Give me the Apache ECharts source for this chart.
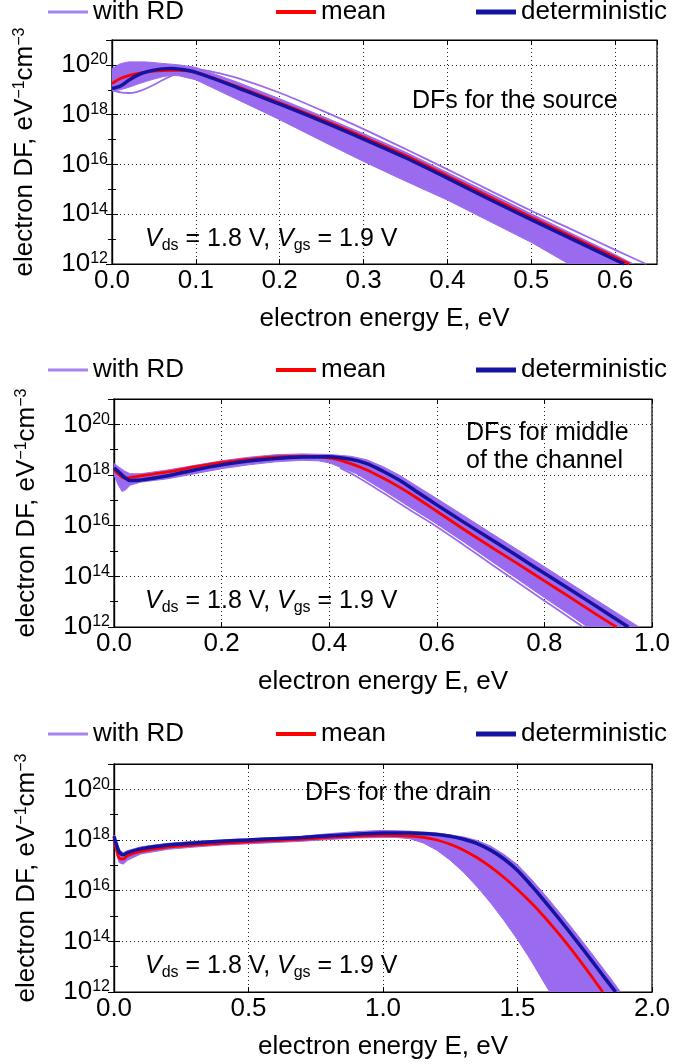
<!DOCTYPE html>
<html><head><meta charset="utf-8">
<script src="https://cdn.jsdelivr.net/npm/echarts@6/dist/echarts.min.js"></script>
<style>html,body{margin:0;padding:0;background:#fff}#c{width:694px;height:1064px}</style>
</head><body><div id="c"></div>
<script>
// ---- DATA: [energy eV, log10(DF / eV^-1 cm^-3)] ----
// Panel 1: source
const srcDeterministic = [[0,19.05],[0.01,19.15],[0.02,19.38],[0.03,19.58],[0.04,19.71],[0.05,19.79],[0.06,19.84],[0.07,19.85],[0.08,19.83],[0.1,19.7],[0.15,19.08],[0.2,18.42],[0.25,17.74],[0.3,17.02],[0.35,16.27],[0.4,15.45],[0.45,14.6],[0.5,13.78],[0.55,12.98],[0.6,12.17],[0.611,12.0]];
const srcMean = [[0,19.25],[0.01,19.45],[0.02,19.57],[0.03,19.65],[0.04,19.71],[0.05,19.75],[0.06,19.77],[0.07,19.78],[0.08,19.78],[0.1,19.7],[0.15,19.12],[0.2,18.48],[0.25,17.81],[0.3,17.1],[0.35,16.36],[0.4,15.54],[0.45,14.7],[0.5,13.88],[0.55,13.07],[0.6,12.27],[0.617,12.0]];
const srcBandUpper = [[0,19.85],[0.01,20.05],[0.02,20.12],[0.04,20.12],[0.06,20.06],[0.08,20.0],[0.1,19.9],[0.15,19.3],[0.2,18.64],[0.25,17.95],[0.3,17.24],[0.35,16.5],[0.4,15.68],[0.45,14.85],[0.5,14.02],[0.55,13.2],[0.6,12.38],[0.622,12.0]];
const srcBandLower = [[0,18.95],[0.01,19.0],[0.02,19.1],[0.03,19.22],[0.04,19.33],[0.05,19.43],[0.06,19.52],[0.07,19.58],[0.08,19.56],[0.1,19.4],[0.15,18.6],[0.2,17.8],[0.25,16.95],[0.3,16.12],[0.35,15.33],[0.4,14.57],[0.45,13.72],[0.5,12.87],[0.545,12.0]];
const srcOutlier = [[0,19.0],[0.01,18.9],[0.02,18.87],[0.03,18.92],[0.04,19.04],[0.05,19.2],[0.06,19.38],[0.07,19.55],[0.08,19.68],[0.09,19.77],[0.1,19.82],[0.12,19.72],[0.15,19.47],[0.2,18.88],[0.25,18.17],[0.3,17.42],[0.35,16.62],[0.4,15.8],[0.45,14.97],[0.5,14.14],[0.55,13.36],[0.6,12.57],[0.637,12.0]];

// Panel 2: middle of the channel
const midDeterministic = [[0,18.28],[0.01,18.1],[0.02,17.9],[0.03,17.78],[0.05,17.8],[0.1,17.97],[0.15,18.2],[0.2,18.4],[0.25,18.55],[0.3,18.65],[0.35,18.71],[0.4,18.72],[0.44,18.62],[0.47,18.45],[0.5,18.15],[0.53,17.8],[0.56,17.38],[0.6,16.82],[0.65,16.14],[0.7,15.47],[0.75,14.8],[0.8,14.12],[0.85,13.45],[0.9,12.77],[0.956,12.0]];
const midMean = [[0,18.2],[0.01,18.0],[0.02,17.88],[0.03,17.9],[0.05,17.97],[0.1,18.12],[0.15,18.32],[0.2,18.5],[0.25,18.62],[0.3,18.71],[0.35,18.74],[0.38,18.72],[0.41,18.64],[0.44,18.45],[0.47,18.2],[0.5,17.88],[0.52,17.65],[0.55,17.27],[0.6,16.57],[0.65,15.86],[0.7,15.17],[0.75,14.5],[0.8,13.82],[0.85,13.14],[0.9,12.45],[0.934,12.0]];
const midBandUpper = [[0,18.45],[0.01,18.3],[0.02,18.15],[0.03,18.05],[0.05,18.05],[0.1,18.2],[0.15,18.38],[0.2,18.56],[0.25,18.7],[0.3,18.8],[0.35,18.83],[0.4,18.81],[0.44,18.74],[0.47,18.6],[0.5,18.33],[0.53,18.0],[0.56,17.6],[0.6,17.07],[0.65,16.4],[0.7,15.72],[0.75,15.05],[0.8,14.38],[0.85,13.7],[0.9,13.02],[0.95,12.35],[0.976,12.0]];
const midBandLower = [[0,18.0],[0.008,17.6],[0.015,17.35],[0.022,17.42],[0.03,17.6],[0.05,17.72],[0.1,17.85],[0.15,18.05],[0.2,18.25],[0.25,18.4],[0.3,18.52],[0.35,18.58],[0.38,18.56],[0.4,18.48],[0.45,18.06],[0.5,17.41],[0.55,16.73],[0.6,16.07],[0.65,15.36],[0.7,14.62],[0.75,13.89],[0.8,13.16],[0.85,12.44],[0.88,12.0]];
const midOutlier = [[0.42,18.28],[0.45,17.95],[0.5,17.3],[0.55,16.62],[0.6,15.96],[0.65,15.24],[0.7,14.5],[0.75,13.77],[0.8,13.04],[0.85,12.32],[0.872,12.0]];

// Panel 3: drain
const drainDeterministic = [[0,18.15],[0.01,17.8],[0.02,17.52],[0.035,17.42],[0.05,17.5],[0.1,17.65],[0.2,17.8],[0.3,17.88],[0.4,17.95],[0.5,18.0],[0.6,18.05],[0.7,18.1],[0.8,18.17],[0.9,18.23],[1.0,18.28],[1.1,18.28],[1.2,18.22],[1.25,18.15],[1.3,18.03],[1.35,17.86],[1.4,17.6],[1.45,17.25],[1.5,16.8],[1.55,16.22],[1.6,15.6],[1.65,14.95],[1.7,14.28],[1.75,13.6],[1.8,12.9],[1.85,12.2],[1.865,12.0]];
const drainMean = [[0,18.05],[0.01,17.6],[0.02,17.28],[0.035,17.25],[0.05,17.38],[0.1,17.55],[0.2,17.72],[0.3,17.8],[0.4,17.87],[0.5,17.93],[0.6,17.98],[0.7,18.03],[0.8,18.1],[0.9,18.15],[1.0,18.18],[1.1,18.15],[1.15,18.1],[1.2,18.0],[1.25,17.83],[1.3,17.6],[1.35,17.3],[1.4,16.94],[1.45,16.52],[1.5,16.05],[1.55,15.53],[1.6,14.96],[1.65,14.34],[1.7,13.68],[1.75,12.98],[1.8,12.25],[1.817,12.0]];
const drainBandUpper = [[0,18.2],[0.01,17.9],[0.02,17.6],[0.035,17.5],[0.05,17.58],[0.1,17.73],[0.2,17.87],[0.3,17.95],[0.4,18.0],[0.5,18.05],[0.6,18.1],[0.7,18.15],[0.8,18.25],[0.9,18.33],[1.0,18.38],[1.1,18.35],[1.2,18.28],[1.3,18.12],[1.35,17.98],[1.4,17.76],[1.45,17.43],[1.5,17.02],[1.55,16.47],[1.6,15.86],[1.65,15.22],[1.7,14.56],[1.75,13.88],[1.8,13.18],[1.85,12.48],[1.883,12.0]];
const drainBandLower = [[0,17.95],[0.01,17.4],[0.02,17.1],[0.035,17.05],[0.05,17.2],[0.1,17.45],[0.2,17.63],[0.3,17.72],[0.4,17.8],[0.5,17.85],[0.6,17.9],[0.7,17.95],[0.8,18.02],[0.9,18.08],[1.0,18.1],[1.05,18.1],[1.1,18.05],[1.15,17.88],[1.2,17.6],[1.25,17.2],[1.3,16.72],[1.35,16.15],[1.4,15.52],[1.45,14.82],[1.5,14.07],[1.55,13.25],[1.6,12.35],[1.62,12.0]];

// axes / labels
const yTickExponents = [12, 14, 16, 18, 20];
const xRanges = [[0, 0.65, 0.1], [0, 1.0, 0.2], [0, 2.0, 0.5]];
const yRange = [12, 21, 2];
const panelTitles = [['DFs for the source'], ['DFs for middle', 'of the channel'], ['DFs for the drain']];
const legendNames = ['with RD', 'mean', 'deterministic'];

// ---- STYLE ----
const F = '"Liberation Sans", Arial, Helvetica, sans-serif';
const PURPLE = '#9a6bef', PURPLE_LEG = '#a583f0', RED = '#ff0000', BLUE = '#1414a0';
const grids = [
  {left: 112, top: 40, width: 545, height: 224},
  {left: 114, top: 399, width: 538, height: 228},
  {left: 114, top: 764, width: 538, height: 228}
];
const panels = [
  {det: srcDeterministic, mean: srcMean, up: srcBandUpper, lo: srcBandLower, out: [srcOutlier]},
  {det: midDeterministic, mean: midMean, up: midBandUpper, lo: midBandLower, out: [midOutlier]},
  {det: drainDeterministic, mean: drainMean, up: drainBandUpper, lo: drainBandLower, out: []}
];

const option = {animation: false, backgroundColor: '#fff', grid: [], xAxis: [], yAxis: [], series: [], legend: [], graphic: []};
const split = {show: true, lineStyle: {color: '#222', type: [1, 3], width: 1}};

grids.forEach((g, i) => {
  option.grid.push(Object.assign({show: true, borderColor: '#000', borderWidth: 1.2, backgroundColor: 'transparent'}, g));
  const [xmin, xmax, xint] = xRanges[i];
  const xfmt = v => (Math.abs(v - xmax) < 1e-9 && i === 0) ? '' : v.toFixed(1);
  option.xAxis.push({
    type: 'value', gridIndex: i, min: xmin, max: xmax, interval: xint, position: 'bottom',
    axisLine: {show: true, lineStyle: {color: '#000', width: 1.2}},
    axisTick: {show: true, inside: true, length: 5, lineStyle: {color: '#000'}},
    axisLabel: {formatter: xfmt, fontSize: 26, fontFamily: F, color: '#000', margin: 4, showMaxLabel: i !== 0},
    splitLine: split,
    name: 'electron energy E, eV', nameLocation: 'middle', nameGap: 42,
    nameTextStyle: {fontSize: 26, fontFamily: F, color: '#000'}
  });
  option.xAxis.push({
    type: 'value', gridIndex: i, min: xmin, max: xmax, interval: xint, position: 'top',
    axisLine: {show: true, lineStyle: {color: '#000', width: 1.2}},
    axisTick: {show: true, inside: true, length: 5, lineStyle: {color: '#000'}},
    axisLabel: {show: false}, splitLine: {show: false}
  });
  option.yAxis.push({
    type: 'value', gridIndex: i, min: yRange[0], max: yRange[1], interval: yRange[2], position: 'left',
    axisLine: {show: true, lineStyle: {color: '#000', width: 1.2}},
    axisTick: {show: true, inside: true, length: 6, lineStyle: {color: '#000'}},
    minorTick: {show: true, splitNumber: 2, length: 4, lineStyle: {color: '#000'}},
    axisLabel: {
      formatter: v => yTickExponents.indexOf(v) >= 0 ? '{b|10}{s|' + v + '}' : '',
      margin: 4,
      rich: {b: {fontSize: 26, fontFamily: F, color: '#000'}, s: {fontSize: 16, fontFamily: F, color: '#000', verticalAlign: 'top'}}
    },
    splitLine: split,
    name: '{a|electron DF, eV}{s|−1}{a|cm}{s|−3}', nameLocation: 'middle', nameGap: 74,
    nameTextStyle: {rich: {a: {fontSize: 26, fontFamily: F, color: '#000'}, s: {fontSize: 16, fontFamily: F, color: '#000', verticalAlign: 'top'}}}
  });
  option.yAxis.push({
    type: 'value', gridIndex: i, min: yRange[0], max: yRange[1], interval: yRange[2], position: 'right',
    axisLine: {show: true, lineStyle: {color: '#000', width: 1.2}},
    axisTick: {show: true, inside: true, length: 6, lineStyle: {color: '#000'}},
    minorTick: {show: true, splitNumber: 2, length: 4, lineStyle: {color: '#000'}},
    axisLabel: {show: false}, splitLine: {show: false}
  });

  const p = panels[i];
  const xi = 2 * i, yi = 2 * i;
  option.series.push({
    type: 'custom', name: 'with RD', xAxisIndex: xi, yAxisIndex: yi, silent: true, z: 2,
    data: [[p.up[0][0], p.up[0][1]]],
    renderItem: (params, api) => {
      const pts = p.up.map(d => api.coord(d)).concat(p.lo.slice().reverse().map(d => api.coord(d)));
      const cs = params.coordSys;
      return {type: 'polygon', shape: {points: pts}, style: {fill: PURPLE, stroke: PURPLE, lineWidth: 1},
        clipPath: {type: 'rect', shape: {x: cs.x, y: cs.y, width: cs.width, height: cs.height}}};
    }
  });
  p.out.forEach(o => option.series.push({
    type: 'line', name: 'with RD', xAxisIndex: xi, yAxisIndex: yi, data: o, showSymbol: false, symbol: 'none',
    smooth: 0.3, lineStyle: {color: PURPLE, width: 1.8}, z: 3, silent: true
  }));
  option.series.push({
    type: 'line', name: 'mean', xAxisIndex: xi, yAxisIndex: yi, data: p.mean, symbol: 'none', smooth: 0.3,
    lineStyle: {color: RED, width: 2.8}, itemStyle: {color: RED}, z: 4, silent: true
  });
  option.series.push({
    type: 'line', name: 'deterministic', xAxisIndex: xi, yAxisIndex: yi, data: p.det, symbol: 'none', smooth: 0.3,
    lineStyle: {color: BLUE, width: 3.5}, itemStyle: {color: BLUE}, z: 5, silent: true
  });

  // legends
  const legTop = [-1, 357, 721][i];
  const legItems = [
    {left: 48, color: PURPLE_LEG, h: 3},
    {left: 276, color: RED, h: 4},
    {left: 476, color: BLUE, h: 5}
  ];
  legItems.forEach((it, k) => option.legend.push({
    left: it.left, top: legTop, padding: 0, itemWidth: 40, itemHeight: it.h, selectedMode: false,
    data: [{name: legendNames[k], icon: 'rect', itemStyle: {color: it.color}}],
    textStyle: {fontSize: 26, fontFamily: F, color: '#000'}
  }));
});

// annotations
const annot = [
  {x: 412, y: 101, t: panelTitles[0][0]},
  {x: 466, y: 433, t: panelTitles[1][0]},
  {x: 466, y: 461, t: panelTitles[1][1]},
  {x: 305, y: 793, t: panelTitles[2][0]}
];
annot.forEach(a => option.graphic.push({type: 'text', x: a.x, y: a.y, z: 100,
  style: {text: a.t, fontSize: 25, fontFamily: F, fill: '#000', align: 'left', verticalAlign: 'middle'}}));
[239, 601, 966].forEach(y => option.graphic.push({type: 'text', x: 145, y: y, z: 100,
  style: {text: '{i|V}{s|ds}{n| = 1.8 V, }{i|V}{s|gs}{n| = 1.9 V}', align: 'left', verticalAlign: 'middle',
    rich: {
      i: {fontSize: 25, fontFamily: F, fontStyle: 'italic', fill: '#000', lineHeight: 30},
      n: {fontSize: 25, fontFamily: F, fill: '#000', lineHeight: 30},
      s: {fontSize: 16, fontFamily: F, fill: '#000', verticalAlign: 'bottom', lineHeight: 12}
    }}}));

const chart = echarts.init(document.getElementById('c'), null, {renderer: 'canvas'});
chart.setOption(option);
</script></body></html>
